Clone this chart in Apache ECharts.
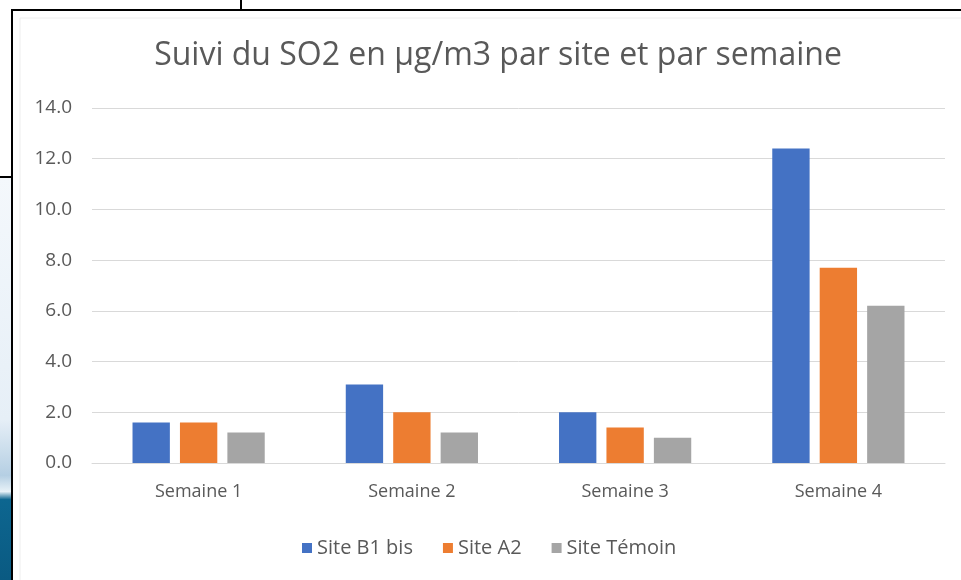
<!DOCTYPE html>
<html>
<head>
<meta charset="utf-8">
<script src="https://cdn.jsdelivr.net/npm/echarts@6/dist/echarts.min.js"></script>
<style>html,body{margin:0;padding:0;background:#fff;}#c{width:961px;height:580px;}</style>
</head>
<body>
<div id="c"></div>
<script>
const categories = ['Semaine 1', 'Semaine 2', 'Semaine 3', 'Semaine 4'];
const siteB1bis = [1.6, 3.1, 2.0, 12.4];
const siteA2 = [1.6, 2.0, 1.4, 7.7];
const siteTemoin = [1.2, 1.2, 1.0, 6.2];
const seriesNames = ['Site B1 bis', 'Site A2', 'Site Témoin'];
const colors = ['#4472C4', '#ED7D31', '#A5A5A5'];
const titleText = 'Suivi du SO2 en µg/m3 par site et par semaine';

const chart = echarts.init(document.getElementById('c'), null, {renderer: 'canvas'});
const font = 'Open Sans, Noto Sans, sans-serif';
chart.setOption({
  animation: false,
  backgroundColor: '#fff',
  color: colors,
  title: {
    text: titleText, left: 493, textAlign: 'center', top: 35,
    textStyle: {fontFamily: font, fontSize: 32, fontWeight: 'normal', color: '#595959'}
  },
  legend: {
    bottom: 17, left: 297, itemWidth: 10, itemHeight: 10, itemGap: 30,
    icon: 'rect',
    textStyle: {fontFamily: font, fontSize: 20, color: '#595959'},
    data: seriesNames
  },
  grid: {left: 92, right: 16, top: 108, bottom: 117},
  xAxis: {
    type: 'category', data: categories,
    axisLine: {lineStyle: {color: '#d9d9d9'}},
    axisTick: {show: false},
    axisLabel: {fontFamily: font, fontSize: 18, color: '#595959', margin: 20}
  },
  yAxis: {
    type: 'value', min: 0, max: 14, interval: 2,
    axisLine: {show: false}, axisTick: {show: false},
    splitLine: {lineStyle: {color: '#d9d9d9'}},
    axisLabel: {fontFamily: font, fontSize: 19, color: '#595959', margin: 20,
      formatter: v => v.toFixed(1)}
  },
  series: [
    {name: seriesNames[0], type: 'bar', data: siteB1bis, barGap: '27%', barCategoryGap: '38%'},
    {name: seriesNames[1], type: 'bar', data: siteA2, barGap: '27%', barCategoryGap: '38%'},
    {name: seriesNames[2], type: 'bar', data: siteTemoin, barGap: '27%', barCategoryGap: '38%'}
  ],
  graphic: [
    {type: 'rect', z: -10, shape: {x: 0, y: 178, width: 12, height: 402},
      style: {fill: new echarts.graphic.LinearGradient(0, 0, 0, 1, [
        {offset: 0, color: '#f4f8fc'}, {offset: 0.6, color: '#e6eff7'},
        {offset: 0.74, color: '#b5cfe3'}, {offset: 0.78, color: '#e8f2f8'},
        {offset: 0.8, color: '#0d6690'}, {offset: 1, color: '#0a5a82'}])}},
    {type: 'line', shape: {x1: 0, y1: 177, x2: 12, y2: 177}, style: {stroke: '#000', lineWidth: 2}},
    {type: 'line', shape: {x1: 241, y1: 0, x2: 241, y2: 10}, style: {stroke: '#000', lineWidth: 2}},
    {type: 'rect', shape: {x: 12, y: 10, width: 960, height: 580}, style: {fill: 'none', stroke: '#000', lineWidth: 2}},
    {type: 'rect', shape: {x: 20, y: 18, width: 960, height: 580}, style: {fill: 'none', stroke: '#eeeeee', lineWidth: 1}}
  ]
});
</script>
</body>
</html>
